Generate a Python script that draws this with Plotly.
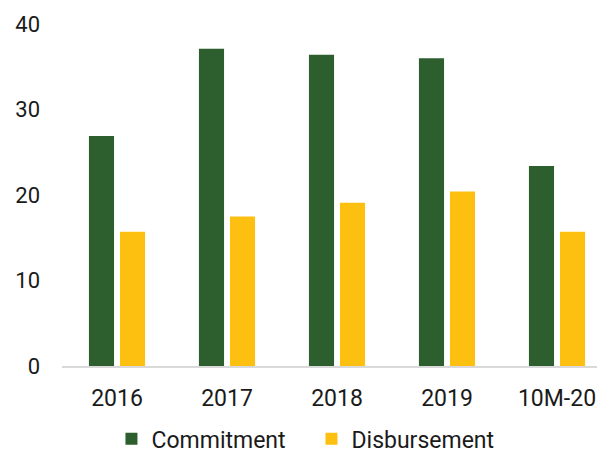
'''Commitment vs disbursement bar chart'''

import plotly.graph_objects as go

categories = ["2016", "2017", "2018", "2019", "10M-20"]
commitment = [26.9, 37.1, 36.4, 36.0, 23.4]
disbursement = [15.7, 17.5, 19.1, 20.4, 15.7]

GREEN = "#2D5E2E"
YELLOW = "#FDC010"
TEXT = "#1a1a1a"
XFONT = dict(family="Roboto", size=23, color=TEXT)
YFONT = dict(family="Roboto", size=22, color=TEXT)

fig = go.Figure()
fig.add_trace(go.Bar(x=categories, y=commitment, name="Commitment",
                     marker=dict(color=GREEN, line=dict(width=0))))
fig.add_trace(go.Bar(x=categories, y=disbursement, name="Disbursement",
                     marker=dict(color=YELLOW, line=dict(width=0))))

# the page body adds an 8px offset, so margins are trimmed to match
fig.update_layout(
    width=605, height=453,
    margin=dict(l=54, r=1, t=16, b=95, autoexpand=False),
    paper_bgcolor="white", plot_bgcolor="white",
    font=XFONT,
    barmode="group", bargap=0.436, bargroupgap=0.19,
    showlegend=True,
    legend=dict(orientation="h", xref="container", x=0.171, xanchor="left",
                yref="paper", y=-0.213, yanchor="middle",
                font=XFONT, entrywidth=155, traceorder="normal"),
)
fig.update_xaxes(showgrid=False, showline=True,
                 linecolor="#d9d9d9", linewidth=2, ticks="", automargin=False,
                 ticklabelstandoff=10, tickfont=XFONT)
fig.update_yaxes(range=[0, 40], dtick=10, showgrid=False, zeroline=False,
                 showline=False, ticks="", automargin=False,
                 ticklabelstandoff=21, tickfont=YFONT)

fig.write_html("out.html")
